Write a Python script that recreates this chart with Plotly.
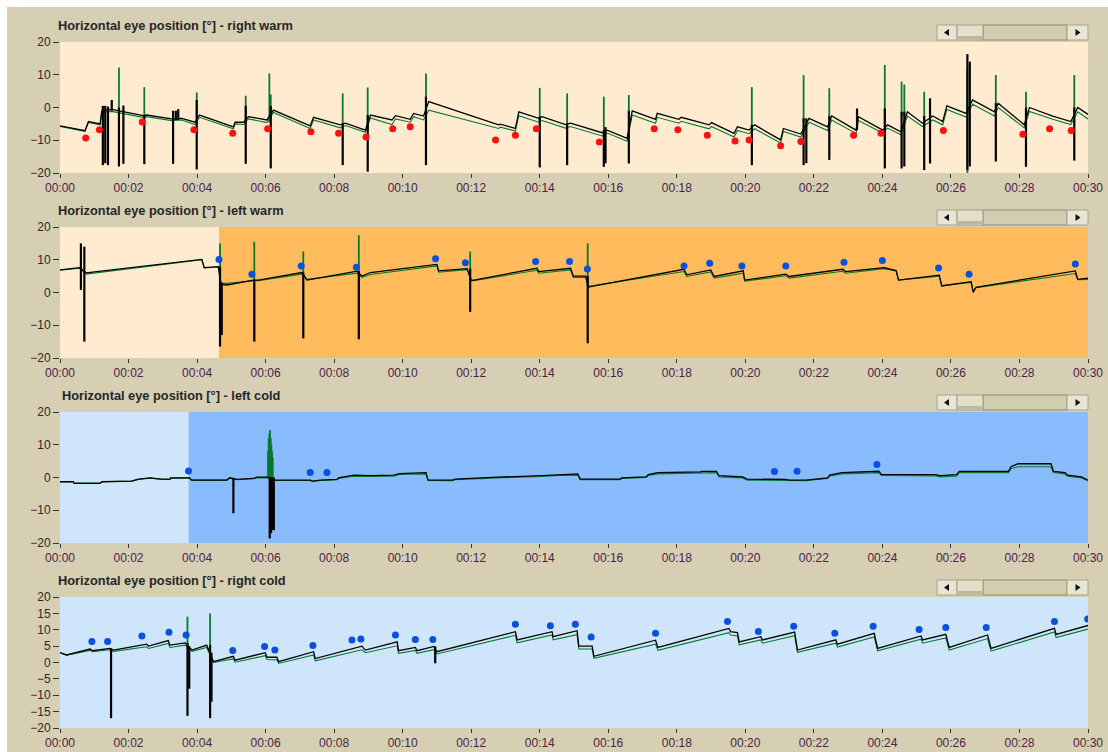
import plotly.graph_objects as go

# ---------------- data ----------------
tick_vals = list(range(0, 31, 2))
tick_text = ["00:%02d" % s for s in tick_vals]

titles = [
    "Horizontal eye position [°] - right warm",
    "Horizontal eye position [°] - left warm",
    "Horizontal eye position [°] - left cold",
    "Horizontal eye position [°] - right cold",
]

# --- right warm ---
rw_t = [0.00, 0.73, 0.83, 1.17, 1.22, 1.51, 2.43, 2.53, 3.26, 3.55, 3.94, 4.07, 5.06, 5.11, 5.36, 5.50,
        6.04, 6.23, 7.30, 7.40, 8.18, 8.33, 8.91, 9.06, 9.69, 9.79, 10.22, 10.32, 10.61, 10.76, 12.80,
        12.85, 13.29, 13.39, 13.97, 14.07, 14.75, 14.90, 15.82, 15.97, 16.55, 16.70, 17.38, 17.43,
        18.06, 18.13, 18.94, 19.01, 19.67, 19.77, 20.11, 20.27, 21.03, 21.11, 21.62, 21.86, 22.40,
        22.52, 23.23, 23.30, 24.01, 24.15, 24.54, 24.73, 25.17, 25.47, 25.76, 25.88, 26.44, 26.63,
        27.27, 27.38, 28.14, 28.29, 28.97, 29.50, 29.70, 30.00]
rw_black = [-5.6, -7.1, -4.3, -5.0, -1.0, -0.6, -2.5, -2.3, -3.5, -3.3, -4.5, -2.3, -5.9, -4.5, -4.5, -2.8,
            -3.8, -0.8, -5.6, -3.0, -5.3, -4.8, -6.9, -2.3, -3.8, -2.5, -3.6, -1.8, -2.6, 1.8, -5.3,
            -5.1, -6.4, -1.3, -3.3, -2.8, -5.2, -4.8, -7.7, -6.9, -9.4, -1.0, -3.6, -1.8,
            -3.6, -3.0, -5.3, -4.6, -7.9, -5.9, -6.9, -5.3, -9.9, -6.4, -8.1, -3.3, -5.9,
            -2.6, -6.9, -2.8, -6.9, -5.3, -7.4, -1.3, -4.8, -2.6, -4.3, 0.5, -1.8, 2.3,
            -1.3, 1.3, -5.3, 0.0, -2.6, -4.3, 0.0, -2.1]
rw_green = [-5.8, -7.3, -4.6, -5.3, -1.5, -1.2, -3.0, -2.8, -4.0, -3.8, -5.2, -3.0, -6.5, -5.0, -5.2, -3.5,
            -4.6, -1.5, -6.4, -3.8, -6.2, -5.5, -7.6, -3.2, -5.2, -3.5, -4.5, -2.8, -3.8, -0.8, -6.4,
            -6.0, -7.2, -2.5, -4.5, -4.0, -6.3, -5.8, -8.7, -7.8, -10.3, -2.3, -4.8, -3.0,
            -4.8, -4.2, -6.5, -5.8, -9.0, -7.0, -8.0, -6.5, -10.8, -7.3, -9.0, -4.5, -7.0,
            -3.8, -7.9, -4.0, -7.8, -6.3, -8.3, -2.6, -5.8, -3.8, -5.3, -0.6, -2.9, 1.0,
            -2.6, 0.0, -6.2, -1.2, -3.6, -5.2, -1.3, -3.5]
# saccade bursts: time, black upper, black lower
rw_sb_t = [1.25, 1.32, 1.40, 1.51, 1.72, 1.85, 2.46, 3.30, 3.38, 3.45, 3.99, 5.42, 6.15, 8.25, 8.98,
           10.68, 14.00, 14.80, 15.87, 15.92, 16.60, 20.19, 21.70, 21.78, 22.45, 23.26, 24.07, 24.56,
           24.64, 25.22, 25.39, 26.48, 26.55, 27.31, 28.19, 29.60]
rw_sb_hi = [0.5, 0.5, 0.3, 2.3, 0.0, 0.6, -2.5, -1.0, -1.0, -0.5, 2.3, 0.5, 0.5, -4.8, -2.3,
            3.3, -2.8, -4.8, -6.9, -6.0, -1.0, -5.3, -3.3, -3.3, -2.6, -0.3, -0.3, -1.3,
            -1.3, -2.6, 2.8, 16.3, 14.0, 1.3, 0.0, 0.0]
rw_sb_lo = [-17.6, -17.0, -17.6, -1.0, -18.0, -17.2, -17.3, -17.2, -3.8, -3.8, -18.9, -17.2, -18.6, -17.6, -19.6,
            -17.6, -18.3, -17.6, -18.1, -17.0, -17.1, -17.6, -17.6, -17.0, -16.0, -6.9, -18.6, -18.6,
            -18.0, -19.1, -17.1, -19.1, -18.0, -16.5, -18.1, -16.2]
# green bursts: time, lower, upper
rw_sg_t = [1.72, 2.46, 3.99, 5.42, 6.11, 6.15, 8.25, 8.98, 10.68, 14.00, 14.80, 15.87, 16.60, 20.19,
           21.70, 22.45, 24.07, 24.56, 24.64, 25.22, 26.48, 27.31, 28.19, 29.60]
rw_sg_lo = [-1.0, -3.0, -5.0, -4.8, -4.5, -4.5, -5.5, -7.0, -3.8, -4.0, -5.8, -7.8, -2.3, -6.5,
            -4.5, -3.8, -6.3, -2.6, -2.6, -3.8, -20.1, 0.0, -1.2, -1.3]
rw_sg_hi = [12.2, 6.2, 4.6, 3.6, 10.4, 4.0, 4.3, 6.1, 10.4, 6.0, 4.3, 3.3, 3.8, 6.2,
            9.9, 5.9, 13.0, 7.9, 7.0, 4.8, 11.5, 9.9, 4.8, 9.9]
rw_dot_t = [0.75, 1.15, 2.40, 3.91, 5.04, 6.06, 7.32, 8.13, 8.93, 9.71, 10.22, 12.71, 13.29, 13.90,
            15.74, 17.34, 18.03, 18.89, 19.70, 20.11, 21.03, 21.62, 23.16, 23.96, 25.78, 28.10,
            28.88, 29.51]
rw_dot_v = [-9.3, -6.8, -4.4, -6.8, -7.9, -6.5, -7.4, -7.9, -9.0, -6.5, -5.9, -9.9, -8.5, -6.5,
            -10.5, -6.5, -6.8, -8.5, -10.2, -9.9, -11.7, -10.4, -8.5, -7.9, -7.0, -8.2,
            -6.5, -7.0]

# --- left warm ---
lw_t = [0.00, 0.58, 0.76, 4.14, 4.21, 4.62, 4.70, 4.87, 5.65, 5.79, 7.06, 7.21, 8.67, 8.81, 9.06,
        11.00, 11.05, 11.88, 12.00, 12.08, 13.92, 13.97, 14.90, 14.98, 15.34, 15.42, 15.48, 18.21,
        18.29, 18.99, 19.09, 19.94, 19.98, 21.18, 21.28, 22.84, 22.93, 24.05, 24.40, 24.47, 25.66,
        25.73, 26.59, 26.65, 26.73, 29.63, 29.70, 30.00]
lw_black = [6.9, 7.6, 6.0, 10.1, 7.6, 7.9, 2.5, 2.3, 3.8, 3.8, 6.1, 3.8, 6.5, 5.0, 6.1,
            8.6, 6.6, 7.3, 3.6, 3.8, 7.4, 6.4, 7.4, 5.0, 5.0, 1.6, 1.8, 7.1,
            5.4, 6.9, 4.9, 6.6, 3.8, 5.6, 4.9, 7.1, 6.4, 7.6, 6.7, 3.8, 5.3,
            2.0, 3.3, 0.0, 1.6, 6.6, 4.0, 4.4]
lw_green = [6.8, 7.4, 5.6, 10.0, 7.5, 7.8, 2.8, 2.8, 3.6, 3.6, 5.6, 4.0, 5.9, 4.6, 5.5,
            8.1, 6.2, 7.0, 4.0, 3.6, 6.8, 5.9, 6.9, 4.6, 4.6, 2.0, 2.0, 6.4,
            4.9, 6.3, 4.4, 5.9, 3.5, 5.1, 4.4, 6.5, 5.9, 7.3, 6.6, 3.8, 5.0,
            2.1, 3.1, 0.4, 1.5, 5.8, 3.9, 4.0]
lw_sb_t = [0.61, 0.71, 4.67, 4.72, 5.67, 7.10, 8.72, 11.97, 15.40]
lw_sb_hi = [15.0, 14.0, 7.9, 3.0, 3.8, 6.1, 6.5, 7.3, 5.0]
lw_sb_lo = [0.8, -15.0, -16.5, -13.0, -15.0, -14.0, -14.3, -5.9, -15.5]
lw_sg_t = [4.67, 5.67, 7.10, 8.72, 11.97, 15.40]
lw_sg_lo = [2.8, 3.6, 4.0, 5.0, 3.6, 2.0]
lw_sg_hi = [15.0, 15.5, 12.5, 17.5, 12.5, 15.0]
lw_dot_t = [4.64, 5.60, 7.04, 8.65, 10.96, 11.83, 13.88, 14.87, 15.39, 18.21, 18.96, 19.90, 21.18,
            22.88, 24.00, 25.64, 26.53, 29.63]
lw_dot_v = [10.1, 5.6, 8.1, 7.7, 10.3, 9.1, 9.5, 9.5, 7.2, 8.1, 8.9, 8.1, 8.1,
            9.2, 9.8, 7.5, 5.6, 8.7]
lw_stim_start = 4.64

# --- left cold ---
lc_t = [0.00, 0.39, 0.41, 1.17, 1.22, 2.09, 2.29, 2.63, 2.97, 3.21, 3.23, 3.78, 3.84, 4.87, 4.95,
        5.16, 5.65, 5.74, 6.04, 6.28, 7.31, 7.36, 7.60, 8.08, 8.13, 8.57, 9.06, 9.74, 9.91, 10.68,
        10.74, 11.46, 11.53, 12.22, 12.77, 14.08, 14.56, 15.11, 15.18, 16.35, 16.39, 17.10, 17.17,
        17.44, 18.68, 18.75, 19.16, 19.23, 19.92, 20.05, 21.16, 21.29, 21.77, 22.05, 22.40, 22.46,
        22.81, 23.90, 23.97, 25.55, 25.69, 26.17, 26.24, 27.68, 27.75, 27.96, 28.92, 28.99, 29.33,
        29.40, 29.81, 29.99]
lc_black = [-1.3, -1.3, -1.8, -1.8, -1.3, -1.1, -0.5, -0.1, -0.5, -0.5, -0.1, -0.1, -0.8, -0.8, -0.1,
            -0.6, -0.3, 0.1, 0.1, -0.8, -0.8, -1.1, -0.8, -0.6, -0.1, 0.7, 0.6, 0.7, 1.2, 1.5,
            -0.8, -0.8, -0.5, -0.1, 0.1, 0.55, 0.9, 1.1, -0.5, -0.5, -0.1, 0.2, 0.9,
            1.5, 1.7, 1.9, 1.9, 0.55, 0.2, -0.5, -0.6, -0.8, -0.8, -0.5, -0.1, 0.7,
            1.5, 1.9, 0.9, 0.9, 0.55, 0.9, 1.9, 1.9, 3.3, 4.2, 4.2, 1.9, 1.5,
            0.7, 0.2, -0.8]
lc_green = [-1.3, -1.3, -1.7, -1.7, -1.3, -1.1, -0.6, -0.2, -0.6, -0.6, -0.2, -0.2, -0.8, -0.8, -0.2,
            -0.7, -0.4, -0.1, -0.1, -0.9, -0.9, -1.2, -0.9, -0.7, -0.3, 0.4, 0.3, 0.4, 0.9, 1.1,
            -0.9, -1.0, -0.7, -0.3, -0.1, 0.3, 0.6, 0.7, -0.7, -0.7, -0.3, 0.0, 0.6,
            1.1, 1.3, 1.5, 1.5, 0.2, -0.1, -0.8, -0.9, -1.1, -1.0, -0.7, -0.3, 0.4,
            1.1, 1.5, 0.6, 0.5, 0.2, 0.5, 1.5, 1.5, 2.7, 3.3, 3.3, 1.5, 1.1,
            0.4, -0.1, -1.0]
lc_sb_t = [5.06, 6.12, 6.16, 6.20, 6.24]
lc_sb_hi = [-0.1, 0.0, 0.0, 0.0, 0.0]
lc_sb_lo = [-10.9, -18.6, -17.0, -16.0, -16.1]
lc_sg_t = [6.07, 6.09, 6.11, 6.13, 6.15, 6.17, 6.19, 6.21]
lc_sg_lo = [0.0, 0.0, 0.0, 0.0, 0.0, 0.0, 0.0, 0.0]
lc_sg_hi = [8.0, 12.0, 13.5, 14.5, 12.0, 10.0, 8.0, 6.0]
lc_dot_t = [3.75, 7.30, 7.79, 20.85, 21.51, 23.84]
lc_dot_v = [2.0, 1.5, 1.5, 1.8, 1.9, 4.0]
lc_stim_start = 3.75

# --- right cold ---
rc_t = [0.00, 0.19, 0.88, 0.95, 1.46, 1.56, 2.53, 2.58, 3.16, 3.21, 3.65, 3.85, 4.28, 4.48, 5.06,
        5.11, 5.99, 6.04, 6.33, 6.38, 7.40, 7.45, 8.81, 8.91, 9.84, 9.88, 10.37, 10.42, 10.91, 11.00,
        13.29, 13.34, 14.36, 14.39, 15.09, 15.14, 15.53, 15.58, 17.38, 17.45, 19.52, 19.57, 19.77,
        19.82, 20.45, 20.50, 21.44, 21.52, 22.64, 22.69, 23.76, 23.86, 25.13, 25.17, 25.85, 25.95,
        27.07, 27.17, 29.02, 29.07, 30.00]
rc_black = [3.0, 2.3, 4.1, 3.6, 4.3, 3.8, 5.6, 5.0, 6.7, 5.3, 6.0, 3.8, 5.3, 0.25, 1.9,
            0.7, 3.0, 1.6, 1.6, 0.25, 3.3, 1.2, 5.0, 3.8, 6.3, 3.6, 4.6, 3.6, 4.9, 3.3,
            9.4, 6.9, 9.4, 7.9, 9.7, 5.0, 5.0, 1.9, 6.8, 4.6, 10.4, 9.4, 9.1,
            6.3, 7.9, 6.9, 9.3, 3.8, 6.9, 5.6, 8.9, 4.3, 8.1, 6.9, 8.6, 4.6,
            8.4, 4.3, 10.4, 8.6, 11.3]
rc_green = [3.0, 2.2, 3.7, 3.3, 3.9, 3.4, 4.8, 4.3, 5.8, 4.6, 5.3, 3.4, 4.6, 0.0, 1.1,
            0.1, 2.1, 0.9, 0.8, -0.3, 2.3, 0.5, 3.9, 3.0, 5.1, 2.8, 3.7, 2.8, 3.9, 2.6,
            8.3, 6.0, 8.4, 6.9, 8.5, 4.1, 4.1, 1.3, 5.6, 3.7, 9.1, 8.4, 8.1,
            5.4, 6.9, 5.9, 8.2, 3.1, 5.9, 4.7, 7.8, 3.6, 7.1, 5.9, 7.5, 3.8,
            7.3, 3.5, 9.3, 7.6, 10.2]
rc_sb_t = [1.49, 3.72, 3.77, 4.38, 4.42, 10.95]
rc_sb_hi = [4.3, 6.0, 5.0, 5.3, 3.0, 4.9]
rc_sb_lo = [-17.0, -16.3, -8.0, -17.0, -12.0, -0.25]
rc_sg_t = [3.72, 4.38]
rc_sg_lo = [5.0, 4.5]
rc_sg_hi = [14.0, 15.0]
rc_dot_t = [0.93, 1.39, 2.39, 3.18, 3.68, 5.04, 5.97, 6.27, 7.38, 8.52, 8.78, 9.79, 10.37, 10.88,
            13.29, 14.31, 15.04, 15.50, 17.38, 19.48, 20.38, 21.41, 22.61, 23.73, 25.07, 25.85,
            27.03, 29.02, 29.99]
rc_dot_v = [6.4, 6.4, 8.1, 9.2, 8.4, 3.7, 4.9, 3.8, 5.2, 6.9, 7.2, 8.4, 7.0, 7.0,
            11.7, 11.2, 11.7, 7.8, 8.9, 12.5, 9.5, 11.1, 8.9, 11.1, 10.1, 10.7,
            10.7, 12.5, 13.3]

# ---------------- styling ----------------
TAN = "#D6CFB4"
PEACH = "#FFEBD0"
ORANGE = "#FFBB5C"
LBLUE = "#CFE5FB"
MBLUE = "#89BCFF"
GREEN = "#07792F"
BLACK = "#000000"
RED = "#FF1010"
BLUE = "#0A50E0"

W, H = 1108, 752
ML, MR, MT, MB = 60, 20, 42, 24
plot_h = H - MT - MB
panel_tops = [42, 227, 412, 597]
panel_px = 131


def py2paper(py):
    return (H - MB - py) / plot_h


def px2paper(px):
    return (px - ML) / (W - ML - MR)


panels = [
    dict(t=rw_t, b=rw_black, g=rw_green, sbt=rw_sb_t, sbh=rw_sb_hi, sbl=rw_sb_lo,
         sgt=rw_sg_t, sgl=rw_sg_lo, sgh=rw_sg_hi, dt=rw_dot_t, dv=rw_dot_v, dc=RED,
         bg=[(0, 30, PEACH)], step=10),
    dict(t=lw_t, b=lw_black, g=lw_green, sbt=lw_sb_t, sbh=lw_sb_hi, sbl=lw_sb_lo,
         sgt=lw_sg_t, sgl=lw_sg_lo, sgh=lw_sg_hi, dt=lw_dot_t, dv=lw_dot_v, dc=BLUE,
         bg=[(0, lw_stim_start, PEACH), (lw_stim_start, 30, ORANGE)], step=10),
    dict(t=lc_t, b=lc_black, g=lc_green, sbt=lc_sb_t, sbh=lc_sb_hi, sbl=lc_sb_lo,
         sgt=lc_sg_t, sgl=lc_sg_lo, sgh=lc_sg_hi, dt=lc_dot_t, dv=lc_dot_v, dc=BLUE,
         bg=[(0, lc_stim_start, LBLUE), (lc_stim_start, 30, MBLUE)], step=10),
    dict(t=rc_t, b=rc_black, g=rc_green, sbt=rc_sb_t, sbh=rc_sb_hi, sbl=rc_sb_lo,
         sgt=rc_sg_t, sgl=rc_sg_lo, sgh=rc_sg_hi, dt=rc_dot_t, dv=rc_dot_v, dc=BLUE,
         bg=[(0, 30, LBLUE)], step=5),
]


def segments(ts, a, b):
    xs, ys = [], []
    for t, u, v in zip(ts, a, b):
        xs += [t, t, None]
        ys += [u, v, None]
    return xs, ys


fig = go.Figure()
shapes = []
annotations = []
layout = {}

for i, p in enumerate(panels):
    n = i + 1
    xa = "x" if n == 1 else "x%d" % n
    ya = "y" if n == 1 else "y%d" % n
    top = panel_tops[i]
    dom = [py2paper(top + panel_px), py2paper(top)]

    # green channel
    fig.add_trace(go.Scatter(x=p["t"], y=p["g"], mode="lines", xaxis=xa, yaxis=ya,
                             line=dict(color=GREEN, width=1.1), hoverinfo="skip", showlegend=False))
    gx, gy = segments(p["sgt"], p["sgl"], p["sgh"])
    fig.add_trace(go.Scatter(x=gx, y=gy, mode="lines", xaxis=xa, yaxis=ya,
                             line=dict(color=GREEN, width=1.8), hoverinfo="skip", showlegend=False))
    # black channel
    fig.add_trace(go.Scatter(x=p["t"], y=p["b"], mode="lines", xaxis=xa, yaxis=ya,
                             line=dict(color=BLACK, width=1.3), hoverinfo="skip", showlegend=False))
    bx, by = segments(p["sbt"], p["sbh"], p["sbl"])
    fig.add_trace(go.Scatter(x=bx, y=by, mode="lines", xaxis=xa, yaxis=ya,
                             line=dict(color=BLACK, width=2.2), hoverinfo="skip", showlegend=False))
    # slow-phase velocity markers
    fig.add_trace(go.Scatter(x=p["dt"], y=p["dv"], mode="markers", xaxis=xa, yaxis=ya,
                             marker=dict(color=p["dc"], size=7, line=dict(width=0)),
                             hoverinfo="skip", showlegend=False))

    # panel background
    for (x0, x1, col) in p["bg"]:
        shapes.append(dict(type="rect", xref=xa, yref=ya + " domain", x0=x0, x1=x1, y0=0, y1=1,
                           fillcolor=col, line=dict(width=0), layer="below"))

    xkey = "xaxis" if n == 1 else "xaxis%d" % n
    ykey = "yaxis" if n == 1 else "yaxis%d" % n
    layout[xkey] = dict(domain=[0, 1], anchor=ya, range=[0, 30], tickvals=tick_vals, ticktext=tick_text,
                        showgrid=False, zeroline=False, showline=False, ticks="outside", ticklen=4,
                        tickcolor="#333333", tickfont=dict(family="Liberation Sans", size=12, color="#4A2446"),
                        automargin=False, fixedrange=True)
    layout[ykey] = dict(domain=dom, anchor=xa, range=[-20, 20], dtick=p["step"], tick0=-20,
                        showgrid=False, zeroline=False, showline=False, ticks="outside", ticklen=6,
                        tickcolor="#333333", tickfont=dict(family="Liberation Sans", size=12, color="#2A2A2A"),
                        automargin=False, fixedrange=True)

    # panel title
    annotations.append(dict(text="<b>%s</b>" % titles[i], xref="paper", yref="paper",
                            x=px2paper(56 if i != 2 else 60),
                            y=py2paper(top - 17), xanchor="left", yanchor="middle", showarrow=False,
                            font=dict(family="Liberation Sans", size=12.8, color="#262626")))

    # scroll bar widget
    sy0, sy1 = py2paper(top - 2), py2paper(top - 17)
    bx0, bx1, th1, tr1, bx2 = 937, 957, 983, 1067, 1088
    shapes.append(dict(type="rect", xref="paper", yref="paper", x0=px2paper(th1), x1=px2paper(tr1),
                       y0=sy0, y1=sy1, fillcolor="#D2CCB0", line=dict(color="#8E8870", width=1)))
    shapes.append(dict(type="rect", xref="paper", yref="paper", x0=px2paper(bx0), x1=px2paper(bx1),
                       y0=sy0, y1=sy1, fillcolor="#E9E5D5", line=dict(color="#A9A389", width=1)))
    shapes.append(dict(type="rect", xref="paper", yref="paper", x0=px2paper(bx1), x1=px2paper(th1),
                       y0=sy0, y1=sy1, fillcolor="#E4DFCB", line=dict(color="#A39D83", width=1)))
    shapes.append(dict(type="rect", xref="paper", yref="paper", x0=px2paper(bx1 + 1), x1=px2paper(th1 - 1),
                       y0=py2paper(top - 6), y1=py2paper(top - 3), fillcolor="#BDB79D", line=dict(width=0)))
    shapes.append(dict(type="rect", xref="paper", yref="paper", x0=px2paper(tr1), x1=px2paper(bx2),
                       y0=sy0, y1=sy1, fillcolor="#E9E5D5", line=dict(color="#A9A389", width=1)))
    cy = top - 9.5
    lx = (bx0 + bx1) / 2
    rx = (tr1 + bx2) / 2
    shapes.append(dict(type="path", xref="paper", yref="paper",
                       path="M %f %f L %f %f L %f %f Z" % (px2paper(lx - 3), py2paper(cy), px2paper(lx + 2),
                                                          py2paper(cy - 3.5), px2paper(lx + 2), py2paper(cy + 3.5)),
                       fillcolor="#111111", line=dict(width=0)))
    shapes.append(dict(type="path", xref="paper", yref="paper",
                       path="M %f %f L %f %f L %f %f Z" % (px2paper(rx + 3), py2paper(cy), px2paper(rx - 2),
                                                          py2paper(cy - 3.5), px2paper(rx - 2), py2paper(cy + 3.5)),
                       fillcolor="#111111", line=dict(width=0)))

# white frame at top and left edges
shapes.append(dict(type="rect", xref="paper", yref="paper", x0=px2paper(0), x1=px2paper(W),
                   y0=py2paper(7), y1=py2paper(0), fillcolor="#FFFFFF", line=dict(width=0)))
shapes.append(dict(type="rect", xref="paper", yref="paper", x0=px2paper(0), x1=px2paper(7),
                   y0=py2paper(H), y1=py2paper(0), fillcolor="#FFFFFF", line=dict(width=0)))

fig.update_layout(width=W, height=H, margin=dict(l=ML, r=MR, t=MT, b=MB, autoexpand=False),
                  paper_bgcolor=TAN, plot_bgcolor=PEACH, shapes=shapes, annotations=annotations,
                  showlegend=False, **layout)

fig.write_html("out.html", config=dict(displayModeBar=False))
